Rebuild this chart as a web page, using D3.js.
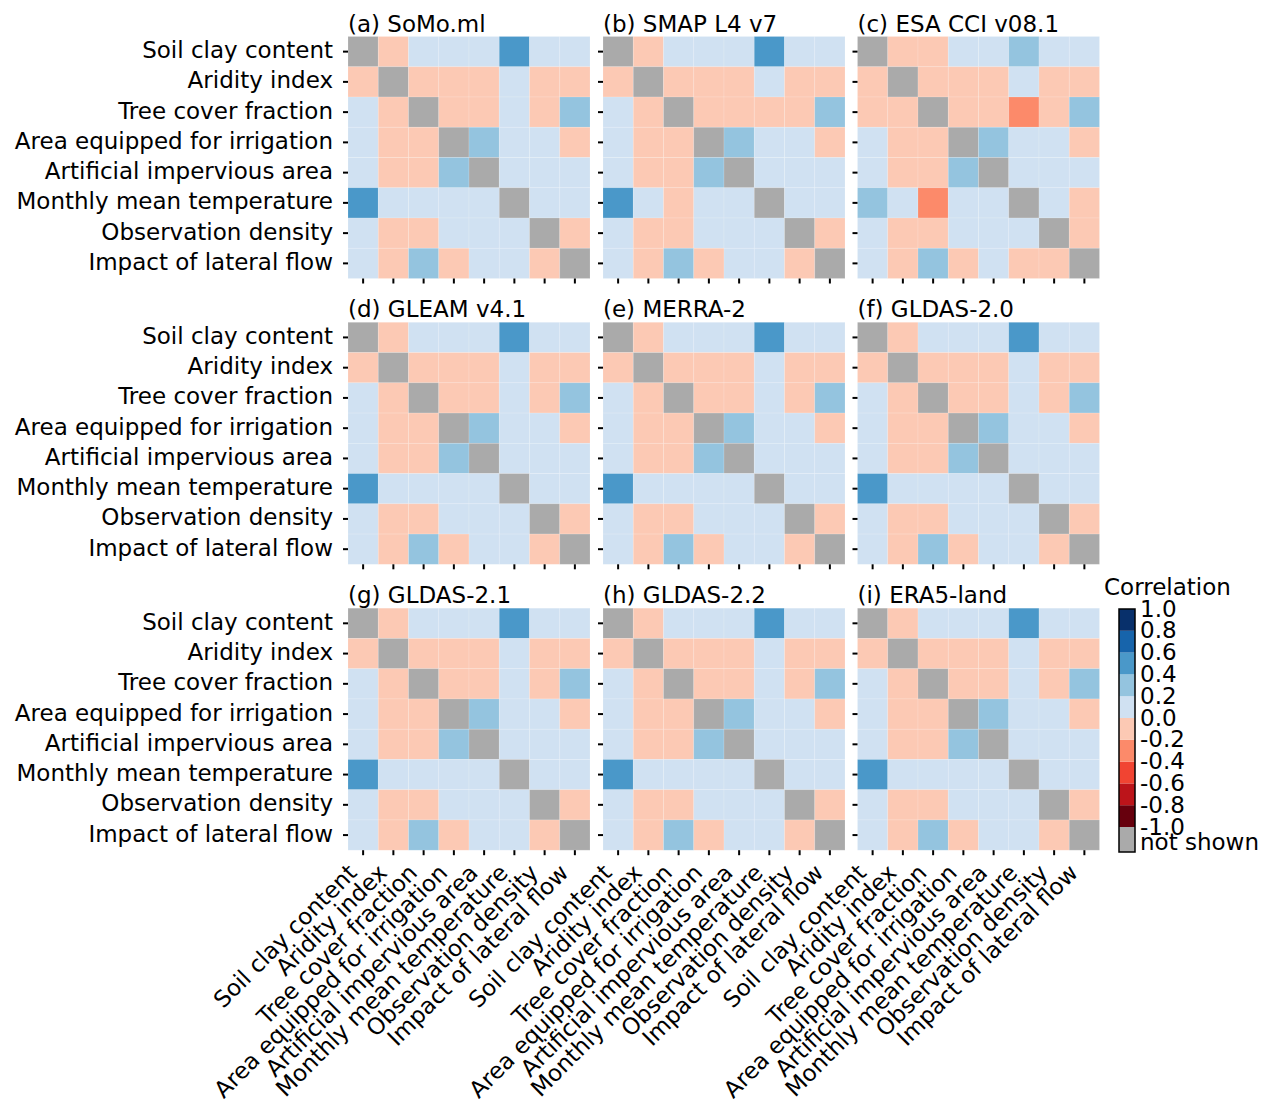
<!DOCTYPE html>
<html>
<head>
<meta charset="utf-8">
<script src="https://cdn.jsdelivr.net/npm/d3@7"></script>
<style>
  html, body { margin: 0; padding: 0; background: #ffffff; }
  svg { display: block; font-family: "DejaVu Sans", sans-serif; }
</style>
</head>
<body>
<svg id="chart" width="1262" height="1099"></svg>
<script>
// ---------------- DATA ----------------
const features = [
  "Soil clay content",
  "Aridity index",
  "Tree cover fraction",
  "Area equipped for irrigation",
  "Artificial impervious area",
  "Monthly mean temperature",
  "Observation density",
  "Impact of lateral flow"
];

const panelTitles = [
  "(a) SoMo.ml", "(b) SMAP L4 v7", "(c) ESA CCI v08.1",
  "(d) GLEAM v4.1", "(e) MERRA-2", "(f) GLDAS-2.0",
  "(g) GLDAS-2.1", "(h) GLDAS-2.2", "(i) ERA5-land"
];

// correlation matrices (diagonal = not shown)
const corrSoMo = [
  [null, -0.09, 0.07, 0.11, 0.06, 0.53, 0.12, 0.08],
  [-0.09, null, -0.13, -0.11, -0.07, 0.09, -0.15, -0.10],
  [0.07, -0.13, null, -0.08, -0.06, 0.14, -0.12, 0.28],
  [0.11, -0.11, -0.08, null, 0.32, 0.08, 0.05, -0.06],
  [0.06, -0.07, -0.06, 0.32, null, 0.07, 0.04, 0.03],
  [0.53, 0.09, 0.14, 0.08, 0.07, null, 0.11, 0.06],
  [0.12, -0.15, -0.12, 0.05, 0.04, 0.11, null, -0.13],
  [0.08, -0.10, 0.28, -0.06, 0.03, 0.06, -0.13, null]
];
const corrSMAP = [
  [null, -0.08, 0.06, 0.10, 0.05, 0.51, 0.11, 0.07],
  [-0.08, null, -0.12, -0.10, -0.06, 0.04, -0.14, -0.09],
  [0.06, -0.12, null, -0.09, -0.07, -0.05, -0.11, 0.27],
  [0.10, -0.10, -0.09, null, 0.31, 0.07, 0.04, -0.05],
  [0.05, -0.06, -0.07, 0.31, null, 0.06, 0.03, 0.02],
  [0.51, 0.04, -0.05, 0.07, 0.06, null, 0.10, 0.05],
  [0.11, -0.14, -0.11, 0.04, 0.03, 0.10, null, -0.12],
  [0.07, -0.09, 0.27, -0.05, 0.02, 0.05, -0.12, null]
];
const corrESA = [
  [null, -0.04, -0.03, 0.08, 0.05, 0.36, 0.10, 0.06],
  [-0.04, null, -0.14, -0.12, -0.08, 0.03, -0.16, -0.11],
  [-0.03, -0.14, null, -0.10, -0.08, -0.24, -0.13, 0.29],
  [0.08, -0.12, -0.10, null, 0.30, 0.06, 0.04, -0.07],
  [0.05, -0.08, -0.08, 0.30, null, 0.05, 0.03, 0.02],
  [0.36, 0.03, -0.24, 0.06, 0.05, null, 0.08, -0.04],
  [0.10, -0.16, -0.13, 0.04, 0.03, 0.08, null, -0.14],
  [0.06, -0.11, 0.29, -0.07, 0.02, -0.04, -0.14, null]
];
const corrGLEAM = [
  [null, -0.08, 0.08, 0.10, 0.06, 0.52, 0.13, 0.07],
  [-0.08, null, -0.12, -0.11, -0.06, 0.08, -0.14, -0.11],
  [0.08, -0.12, null, -0.07, -0.05, 0.13, -0.11, 0.27],
  [0.10, -0.11, -0.07, null, 0.33, 0.09, 0.05, -0.05],
  [0.06, -0.06, -0.05, 0.33, null, 0.06, 0.04, 0.03],
  [0.52, 0.08, 0.13, 0.09, 0.06, null, 0.12, 0.05],
  [0.13, -0.14, -0.11, 0.05, 0.04, 0.12, null, -0.12],
  [0.07, -0.11, 0.27, -0.05, 0.03, 0.05, -0.12, null]
];
const corrMERRA2 = [
  [null, -0.09, 0.07, 0.10, 0.05, 0.54, 0.12, 0.08],
  [-0.09, null, -0.13, -0.10, -0.07, 0.10, -0.15, -0.10],
  [0.07, -0.13, null, -0.08, -0.06, 0.15, -0.12, 0.29],
  [0.10, -0.10, -0.08, null, 0.31, 0.08, 0.05, -0.06],
  [0.05, -0.07, -0.06, 0.31, null, 0.07, 0.04, 0.02],
  [0.54, 0.10, 0.15, 0.08, 0.07, null, 0.11, 0.06],
  [0.12, -0.15, -0.12, 0.05, 0.04, 0.11, null, -0.13],
  [0.08, -0.10, 0.29, -0.06, 0.02, 0.06, -0.13, null]
];
const corrGLDAS20 = [
  [null, -0.09, 0.07, 0.11, 0.06, 0.52, 0.12, 0.08],
  [-0.09, null, -0.13, -0.11, -0.07, 0.09, -0.15, -0.10],
  [0.07, -0.13, null, -0.08, -0.06, 0.14, -0.12, 0.28],
  [0.11, -0.11, -0.08, null, 0.32, 0.08, 0.05, -0.06],
  [0.06, -0.07, -0.06, 0.32, null, 0.07, 0.04, 0.03],
  [0.52, 0.09, 0.14, 0.08, 0.07, null, 0.11, 0.06],
  [0.12, -0.15, -0.12, 0.05, 0.04, 0.11, null, -0.13],
  [0.08, -0.10, 0.28, -0.06, 0.03, 0.06, -0.13, null]
];
const corrGLDAS21 = [
  [null, -0.09, 0.07, 0.11, 0.06, 0.53, 0.12, 0.08],
  [-0.09, null, -0.12, -0.11, -0.07, 0.09, -0.14, -0.10],
  [0.07, -0.12, null, -0.08, -0.06, 0.14, -0.12, 0.28],
  [0.11, -0.11, -0.08, null, 0.32, 0.08, 0.05, -0.06],
  [0.06, -0.07, -0.06, 0.32, null, 0.07, 0.04, 0.03],
  [0.53, 0.09, 0.14, 0.08, 0.07, null, 0.11, 0.06],
  [0.12, -0.14, -0.12, 0.05, 0.04, 0.11, null, -0.13],
  [0.08, -0.10, 0.28, -0.06, 0.03, 0.06, -0.13, null]
];
const corrGLDAS22 = [
  [null, -0.09, 0.07, 0.11, 0.06, 0.53, 0.12, 0.08],
  [-0.09, null, -0.13, -0.11, -0.07, 0.09, -0.15, -0.10],
  [0.07, -0.13, null, -0.08, -0.06, 0.13, -0.12, 0.28],
  [0.11, -0.11, -0.08, null, 0.32, 0.08, 0.05, -0.06],
  [0.06, -0.07, -0.06, 0.32, null, 0.07, 0.04, 0.03],
  [0.53, 0.09, 0.13, 0.08, 0.07, null, 0.11, 0.06],
  [0.12, -0.15, -0.12, 0.05, 0.04, 0.11, null, -0.13],
  [0.08, -0.10, 0.28, -0.06, 0.03, 0.06, -0.13, null]
];
const corrERA5 = [
  [null, -0.08, 0.07, 0.10, 0.06, 0.55, 0.12, 0.08],
  [-0.08, null, -0.13, -0.11, -0.07, 0.09, -0.15, -0.10],
  [0.07, -0.13, null, -0.08, -0.06, 0.14, -0.12, 0.30],
  [0.10, -0.11, -0.08, null, 0.33, 0.08, 0.05, -0.06],
  [0.06, -0.07, -0.06, 0.33, null, 0.07, 0.04, 0.03],
  [0.55, 0.09, 0.14, 0.08, 0.07, null, 0.11, 0.06],
  [0.12, -0.15, -0.12, 0.05, 0.04, 0.11, null, -0.13],
  [0.08, -0.10, 0.30, -0.06, 0.03, 0.06, -0.13, null]
];
const panelData = [corrSoMo, corrSMAP, corrESA, corrGLEAM, corrMERRA2, corrGLDAS20, corrGLDAS21, corrGLDAS22, corrERA5];

// colour scale (discrete bins of 0.2)
const colorBreaks = [-0.8, -0.6, -0.4, -0.2, 0.0, 0.2, 0.4, 0.6, 0.8];
const colorHex = ["#67000d", "#bc141a", "#f14432", "#fc8a6a", "#fcc9b4",
                  "#d0e1f2", "#94c4df", "#4a98c9", "#1764ab", "#08306b"];
const notShownColor = "#aaaaaa";
const cbarTicks = [1.0, 0.8, 0.6, 0.4, 0.2, 0.0, -0.2, -0.4, -0.6, -0.8, -1.0];
const cbarTickLabels = ["1.0", "0.8", "0.6", "0.4", "0.2", "0.0", "-0.2", "-0.4", "-0.6", "-0.8", "-1.0"];

// ---------------- LAYOUT ----------------
const FS = 23;
const panelSize = 242;
const colLefts = [348, 603, 857.5];
const rowTops = [36.5, 322.3, 608.2];

const svg = d3.select("#chart");
svg.append("rect").attr("width", 1262).attr("height", 1099).attr("fill", "#fff");

const color = d3.scaleThreshold().domain(colorBreaks).range(colorHex);

panelData.forEach((mat, k) => {
  const r = Math.floor(k / 3), c = k % 3;
  const left = colLefts[c], top = rowTops[r];
  const x = d3.scaleBand().domain(features).range([left, left + panelSize]);
  const y = d3.scaleBand().domain(features).range([top, top + panelSize]);
  const g = svg.append("g");

  const cells = [];
  mat.forEach((row, i) => row.forEach((v, j) => cells.push({ r: features[i], c: features[j], v })));

  g.selectAll("rect.cell").data(cells).join("rect")
    .attr("class", "cell")
    .attr("x", d => x(d.c))
    .attr("y", d => y(d.r))
    .attr("width", x.bandwidth())
    .attr("height", y.bandwidth())
    .attr("fill", d => d.v === null ? notShownColor : color(d.v))
    .attr("stroke", "#ffffff")
    .attr("stroke-opacity", 0.18)
    .attr("stroke-width", 0.8);

  // title
  g.append("text")
    .attr("x", left)
    .attr("y", top - 5)
    .attr("font-size", FS)
    .attr("fill", "#000")
    .text(panelTitles[k]);

  // y axis
  const ya = g.append("g")
    .attr("transform", `translate(${left},0)`)
    .call(d3.axisLeft(y).tickSize(5).tickPadding(10).tickFormat(c === 0 ? (d => d) : () => ""));
  ya.select(".domain").remove();
  ya.selectAll(".tick line").attr("stroke", "#000").attr("stroke-width", 2);
  ya.selectAll(".tick text")
    .attr("font-size", FS).attr("font-family", "DejaVu Sans").attr("fill", "#000")
    .attr("dy", null).attr("y", 6.5);

  // x axis
  const xa = g.append("g")
    .attr("transform", `translate(0,${top + panelSize})`)
    .call(d3.axisBottom(x).tickSize(5).tickFormat(r === 2 ? (d => d) : () => ""));
  xa.select(".domain").remove();
  xa.selectAll(".tick line").attr("stroke", "#000").attr("stroke-width", 2);
  xa.selectAll(".tick text")
    .attr("font-size", FS).attr("font-family", "DejaVu Sans").attr("fill", "#000")
    .attr("x", 0).attr("y", 0).attr("dy", null)
    .attr("text-anchor", "end")
    .attr("transform", "translate(-5,24) rotate(-45)");
});

// ---------------- COLORBAR ----------------
const cbX = 1119, cbW = 16, cbTop = 609, cbBottom = 827, nsBottom = 852;
const yc = d3.scaleLinear().domain([-1, 1]).range([cbBottom, cbTop]);
const bins = d3.range(10).map(i => ({ lo: -1 + i * 0.2, hi: -1 + (i + 1) * 0.2 }));
const cb = svg.append("g");
cb.selectAll("rect.bin").data(bins).join("rect")
  .attr("class", "bin")
  .attr("x", cbX).attr("width", cbW)
  .attr("y", d => yc(d.hi))
  .attr("height", d => yc(d.lo) - yc(d.hi))
  .attr("fill", d => color((d.lo + d.hi) / 2));
cb.append("rect")
  .attr("x", cbX).attr("width", cbW)
  .attr("y", cbBottom).attr("height", nsBottom - cbBottom)
  .attr("fill", notShownColor);
cb.append("rect")
  .attr("x", cbX).attr("width", cbW)
  .attr("y", cbTop).attr("height", nsBottom - cbTop)
  .attr("fill", "none").attr("stroke", "#000").attr("stroke-width", 1.5);

const cba = cb.append("g")
  .attr("transform", `translate(${cbX + cbW},0)`)
  .call(d3.axisRight(yc).tickValues(cbarTicks).tickSize(0).tickPadding(5)
        .tickFormat((d, i) => cbarTickLabels[i]));
cba.select(".domain").remove();
cba.selectAll(".tick text")
  .attr("font-size", FS).attr("font-family", "DejaVu Sans").attr("fill", "#000")
  .attr("dy", null).attr("y", 7);

cb.append("text")
  .attr("x", cbX + cbW + 5)
  .attr("y", 850)
  .attr("font-size", FS).attr("fill", "#000")
  .text("not shown");

cb.append("text")
  .attr("x", 1104)
  .attr("y", 595)
  .attr("font-size", FS).attr("fill", "#000")
  .text("Correlation");
</script>
</body>
</html>
